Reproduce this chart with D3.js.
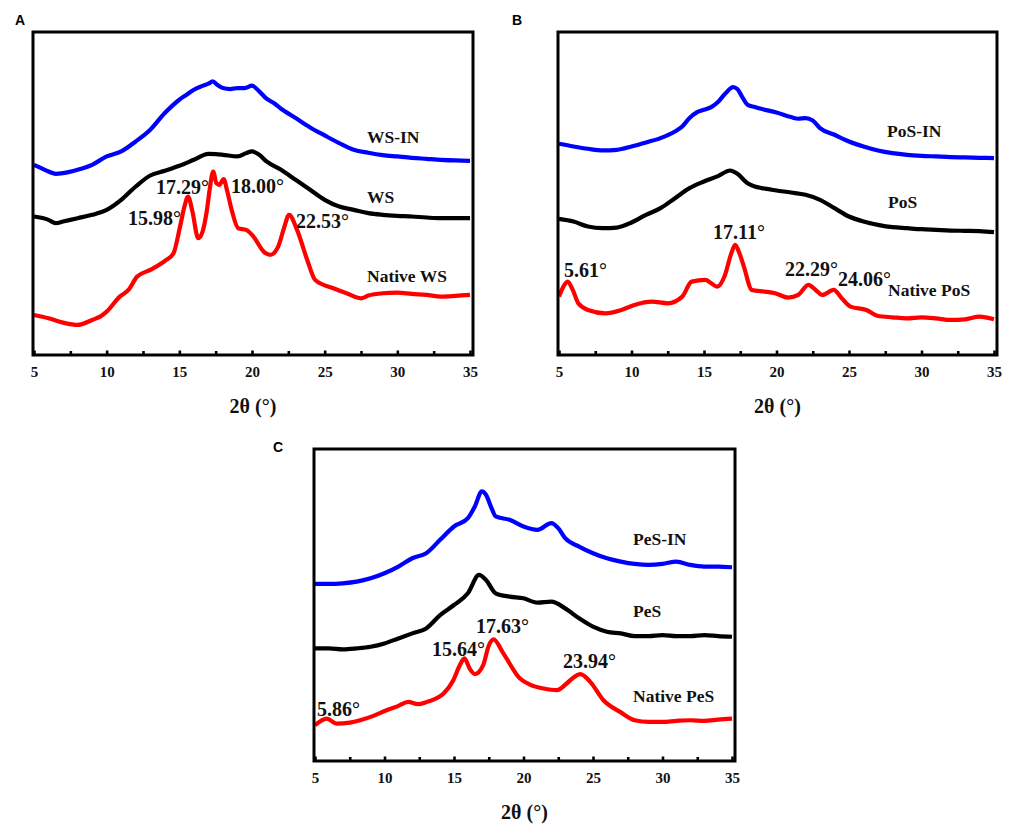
<!DOCTYPE html>
<html>
<head>
<meta charset="utf-8">
<script src="https://cdn.jsdelivr.net/npm/d3@7"></script>
<style>
body{margin:0;background:#fff;}
</style>
</head>
<body>
<svg id="fig" width="1021" height="827"></svg>
<script>
// 2theta axis
tick_major = [5, 10, 15, 20, 25, 30, 35];
tick_minor = [7.5, 12.5, 17.5, 22.5, 27.5, 32.5];
axis_title = "2θ (°)";

// ---- panel A : wheat starch, [2theta, intensity a.u.]
wsIn = [[5,57.0],[5.5,56.0],[6,55.0],[6.5,54.3],[7,54.5],[8,55.5],[9,57.0],[10,59.5],[11,61.0],[12,64.0],[13,67.5],[14,72.5],[15,76.5],[15.5,78.0],[16,79.5],[16.5,80.5],[17,81.3],[17.3,82.0],[17.6,81.0],[18,80.0],[18.5,79.7],[19,80.0],[19.5,80.0],[20,80.7],[20.5,79.0],[21,76.8],[21.5,75.5],[22,73.8],[23,71.0],[24,68.2],[25,65.8],[26,63.5],[27,61.5],[28,60.6],[29,59.9],[30,59.5],[31,59.1],[32,58.8],[33,58.5],[34,58.3],[35,58.2]];
ws = [[5,41.5],[6,40.5],[6.5,39.5],[7,40.0],[8,41.0],[9,42.0],[10,43.5],[11,46.5],[12,50.5],[13,53.8],[14,55.2],[15,56.7],[16,58.5],[17,60.3],[17.5,60.2],[18,60.0],[19,59.5],[19.6,60.5],[20,61.0],[20.5,60.0],[21,58.0],[22,55.5],[23,52.5],[24,49.5],[25,46.5],[26,44.5],[27,43.5],[28,42.5],[29,42.0],[30,41.7],[31,41.5],[32,41.2],[33,41.0],[34,41.0],[35,41.0]];
nativeWs = [[5,12.0],[6,11.0],[7,9.7],[8,9.0],[9,10.5],[9.55,11.5],[10,13.0],[10.9,17.5],[11.5,19.5],[12.1,23.5],[13,25.5],[14.1,28.5],[14.6,30.5],[15.05,38.5],[15.35,44.5],[15.6,47.5],[15.9,43.0],[16.3,35.0],[16.6,37.0],[16.9,43.5],[17.1,50.0],[17.33,55.0],[17.55,51.5],[17.75,51.0],[18.05,52.7],[18.3,49.0],[18.6,43.5],[19.05,38.0],[19.6,37.5],[20.1,35.5],[20.8,31.0],[21.25,30.0],[21.8,32.5],[22.2,38.0],[22.55,42.0],[23.1,37.5],[23.8,28.5],[24.35,22.5],[25.6,20.0],[26.5,18.5],[27.5,17.0],[28,17.8],[29,18.5],[30,18.7],[31,18.3],[32,18.0],[33,17.5],[34,17.7],[35,18.0]];
namesA = ["WS-IN", "WS", "Native WS"];
peaksA = ["15.98°", "17.29°", "18.00°", "22.53°"];

// ---- panel B : potato starch
posIn = [[5,63.3],[6,62.5],[7,61.8],[8,61.3],[9,61.5],[10,62.5],[11,63.7],[12,65.0],[13,67.0],[13.5,68.5],[14,71.0],[14.5,72.7],[15,73.5],[15.5,74.3],[16,76.0],[16.5,78.5],[17,80.3],[17.3,79.7],[17.6,77.6],[18,75.0],[18.5,74.3],[19,73.7],[20,72.7],[21,71.3],[21.5,70.8],[22,71.0],[22.5,70.3],[23,68.0],[24,66.0],[25,64.0],[26,62.5],[27,61.3],[28,60.5],[29,60.0],[30,59.7],[31,59.5],[32,59.3],[33,59.2],[34,59.1],[35,59.0]];
pos = [[5,40.8],[6,40.0],[7,38.5],[8,38.0],[9,38.2],[10,39.7],[11,42.0],[12,44.0],[13,47.0],[14,50.0],[15,52.0],[16,53.7],[16.8,55.3],[17.3,54.3],[18,51.5],[18.5,50.5],[19,50.0],[20,49.3],[21,48.7],[22,48.0],[23,46.5],[24,44.0],[25,41.5],[26,40.0],[27,39.0],[28,38.3],[29,38.0],[30,37.7],[31,37.5],[32,37.3],[33,37.2],[34,37.1],[35,36.8]];
nativePos = [[5,17.5],[5.3,20.5],[5.6,22.0],[5.95,19.5],[6.33,15.5],[7,13.5],[8.2,12.5],[9.3,13.5],[10.2,15.0],[11.4,16.0],[12.5,15.5],[13.5,17.5],[14.15,22.0],[15.1,22.5],[15.5,21.5],[15.9,20.5],[16.45,24.0],[16.85,30.0],[17.15,33.0],[17.4,31.0],[17.75,26.5],[18.3,19.5],[19.2,19.0],[19.9,18.5],[20.8,17.2],[21.5,18.0],[22.2,21.0],[22.7,19.5],[23.15,18.0],[23.95,19.5],[24.5,17.0],[25.1,14.5],[26.2,13.5],[27,11.7],[28,11.3],[29,11.0],[30,11.3],[31,11.0],[32,10.5],[33,10.7],[34,11.5],[35,10.7]];
namesB = ["PoS-IN", "PoS", "Native PoS"];
peaksB = ["5.61°", "17.11°", "22.29°", "24.06°"];

// ---- panel C : pea starch
pesIn = [[5,53.0],[6,53.0],[7,53.2],[8,53.7],[9,54.7],[10,56.2],[11,58.2],[12,60.7],[13,62.2],[14,66.2],[15,70.2],[16,72.7],[16.5,76.2],[17,80.7],[17.3,79.7],[17.7,75.7],[18,73.2],[19,72.2],[20,70.2],[21,69.2],[22,71.2],[22.5,69.7],[23,66.7],[24,64.2],[25,62.2],[26,60.7],[27,59.7],[28,59.0],[29,58.7],[30,59.0],[31,59.7],[32,58.7],[33,58.2],[34,58.2],[35,58.0]];
pes = [[5,33.7],[6,33.7],[7,33.4],[8,33.7],[9,34.2],[10,35.2],[11,36.7],[12,38.2],[13,39.7],[14,43.7],[15,46.7],[16,50.2],[16.8,55.7],[17.3,54.2],[18,50.2],[19,49.2],[20,48.7],[21,47.4],[22,47.7],[23,45.7],[24,42.7],[25,40.2],[26,38.7],[27,38.2],[28,37.4],[29,37.4],[30,37.7],[31,37.4],[32,37.4],[33,37.7],[34,37.4],[35,37.2]];
nativePes = [[5,10.7],[5.85,12.7],[6.55,11.2],[7.5,11.5],[8.25,12.2],[9.2,13.5],[10.15,15.2],[11,16.5],[11.7,17.7],[12.4,17.0],[13.05,17.7],[14.25,20.2],[14.95,24.2],[15.4,28.5],[15.75,30.7],[16.15,27.5],[16.5,26.0],[17.1,28.7],[17.5,34.5],[17.85,36.4],[18.55,32.2],[19.75,24.7],[20.5,22.8],[21.45,21.7],[22.4,21.2],[23.1,23.2],[23.6,25.0],[24.1,26.0],[24.8,23.7],[25.75,18.2],[26.95,14.7],[28,12.2],[29,11.7],[30,11.7],[31,12.0],[32,12.2],[33,12.0],[34,12.4],[35,12.7]];
namesC = ["PeS-IN", "PeS", "Native PeS"];
peaksC = ["5.86°", "15.64°", "17.63°", "23.94°"];

colors = ["#0000ff", "#000000", "#ff0000"];
serif = "'Liberation Serif', 'Times New Roman', Times, serif";

// layout of the three panels (pixels)
panels = [
    {tag:"A", tagPos:[15,25], box:{left:33, right:473, top:32, bottom:355}, yMax:96.8,
     series:[wsIn, ws, nativeWs], names:namesA, namePos:[[367,143],[367,203],[367,282]],
     peaks:peaksA, peakPos:[[128,225],[156,194],[231,193],[296,228]]},
    {tag:"B", tagPos:[512,25], box:{left:558, right:997, top:32, bottom:355}, yMax:96.8,
     series:[posIn, pos, nativePos], names:namesB, namePos:[[887,137],[888,208],[888,296]],
     peaks:peaksB, peakPos:[[564,277],[713,239],[785,276],[838,286]]},
    {tag:"C", tagPos:[273,452], box:{left:314, right:735, top:449, bottom:761}, yMax:93.4,
     series:[pesIn, pes, nativePes], names:namesC, namePos:[[633,545],[633,617],[633,702]],
     peaks:peaksC, peakPos:[[317,716],[432,656],[476,633],[563,668]]}
];

svg = d3.select("#fig");

function serifText(sel, size){
    return sel.style("font-family", serif)
        .style("font-weight", "bold")
        .style("font-size", size + "px")
        .style("fill", "#111");
}

function drawPanel(p){
    let b = p.box;
    let x = d3.scaleLinear().domain([5, 35]).range([b.left + 1, b.right - 3]);
    let y = d3.scaleLinear().domain([0, p.yMax]).range([b.bottom, b.top]);
    let g = svg.append("g");

    let line = d3.line()
        .x(function(d){ return x(d[0]); })
        .y(function(d){ return y(d[1]); })
        .curve(d3.curveMonotoneX);

    // curves
    p.series.forEach(function(s, i){
        g.append("path")
            .datum(s)
            .attr("d", line)
            .attr("fill", "none")
            .attr("stroke", colors[i])
            .attr("stroke-width", 4.2)
            .attr("stroke-linejoin", "round");
    });

    // ticks (inward) + labels
    let ax = g.append("g")
        .attr("transform", "translate(0," + b.bottom + ")")
        .call(d3.axisBottom(x).tickValues(tick_major).tickSizeInner(-4.5).tickSizeOuter(0).tickPadding(11));
    ax.select(".domain").remove();
    ax.selectAll("line").attr("stroke", "#000").attr("stroke-width", 2.6);
    serifText(ax.selectAll("text"), 15);

    let axm = g.append("g")
        .attr("transform", "translate(0," + b.bottom + ")")
        .call(d3.axisBottom(x).tickValues(tick_minor).tickSizeInner(-4).tickSizeOuter(0).tickFormat(""));
    axm.select(".domain").remove();
    axm.selectAll("line").attr("stroke", "#000").attr("stroke-width", 2.6);

    // frame
    g.append("rect")
        .attr("x", b.left).attr("y", b.top)
        .attr("width", b.right - b.left).attr("height", b.bottom - b.top)
        .attr("fill", "none").attr("stroke", "#000").attr("stroke-width", 3);

    // axis title
    serifText(g.append("text"), 20)
        .attr("x", (b.left + b.right) / 2).attr("y", b.bottom + 58)
        .attr("text-anchor", "middle")
        .text(axis_title);

    // series names
    p.names.forEach(function(n, i){
        serifText(g.append("text"), 17.5)
            .attr("x", p.namePos[i][0]).attr("y", p.namePos[i][1])
            .text(n);
    });

    // peak labels
    p.peaks.forEach(function(n, i){
        serifText(g.append("text"), 20)
            .attr("x", p.peakPos[i][0]).attr("y", p.peakPos[i][1])
            .text(n);
    });

    // panel tag
    g.append("text")
        .attr("x", p.tagPos[0]).attr("y", p.tagPos[1])
        .style("font-family", "'Liberation Sans', Arial, sans-serif")
        .style("font-weight", "bold").style("font-size", "14px")
        .text(p.tag);
}

panels.forEach(drawPanel);
</script>
</body>
</html>
